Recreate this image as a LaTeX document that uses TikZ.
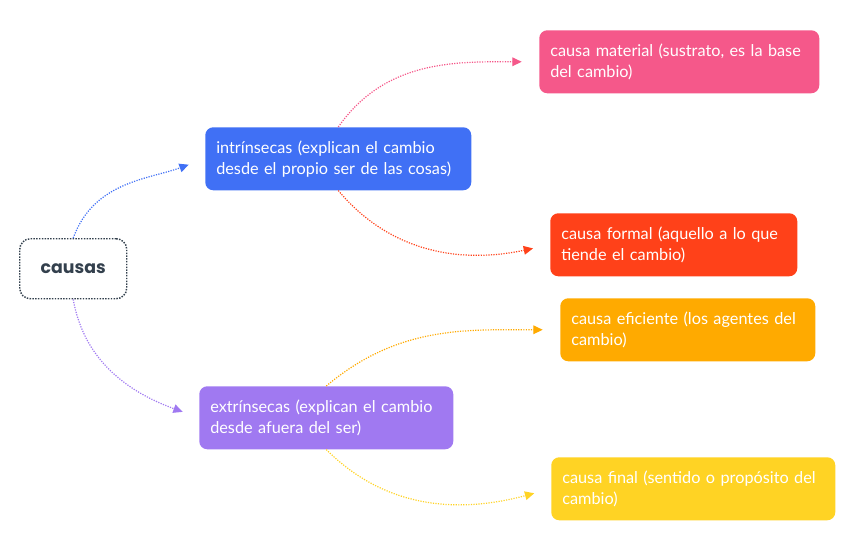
\documentclass[tikz,border=0pt]{standalone}
\usepackage{fontspec}
\setmainfont{Lato}
\newfontfamily\rootfont{Poppins}
\usetikzlibrary{arrows.meta}
\definecolor{cblue}{HTML}{4070F5}
\definecolor{cpurple}{HTML}{A079F1}
\definecolor{cpink}{HTML}{F5588A}
\definecolor{cred}{HTML}{FF4119}
\definecolor{corange}{HTML}{FFAA00}
\definecolor{cyellow}{HTML}{FFD324}
\definecolor{cdark}{HTML}{33404D}
\tikzset{
  box/.style={anchor=north west, rounded corners=6pt, minimum height=47.25pt, inner xsep=8.25pt, inner ysep=0pt, align=left, text=white, font=\fontsize{12.2}{15.9}\selectfont},
  conn/.style={densely dotted, line width=0.9pt, -{Triangle[length=7pt,width=6.5pt]}, shorten >=13pt},
}
\begin{document}
\begin{tikzpicture}[x=0.75pt,y=-0.75pt]
\useasboundingbox (0,0) rectangle (848,539);
% root
\node[draw=cdark, densely dotted, line width=1.1pt, rounded corners=8pt, minimum width=80.25pt, minimum height=45pt, anchor=north west, text=cdark, font=\rootfont\fontsize{13}{16}\selectfont\bfseries] (causas) at (19,238) {causas};
% level 1
\node[box, fill=cblue, text width=183pt] (intr) at (205,127) {intrínsecas (explican el cambio\\desde el propio ser de las cosas)};
\node[box, fill=cpurple, text width=174pt] (extr) at (199,386) {extrínsecas (explican el cambio\\desde afuera del ser)};
% level 2
\node[box, fill=cpink, text width=193.5pt] (mat) at (539,30) {causa material (sustrato, es la base\\del cambio)};
\node[box, fill=cred, text width=168.75pt] (form) at (550,213) {causa formal (aquello a lo que\\tiende el cambio)};
\node[box, fill=corange, text width=174.75pt] (efic) at (560,298) {causa eficiente (los agentes del\\cambio)};
\node[box, fill=cyellow, text width=196.5pt] (fin) at (551,457) {causa final (sentido o propósito del\\cambio)};
% connectors
\draw[conn, cblue] (causas.north) to[out=70, in=200] (intr.west);
\draw[conn, cpurple] (causas.south) to[out=-80, in=160] (extr.west);
\draw[conn, cpink] (intr.north) to[out=55, in=180] (mat.west);
\draw[conn, cred] (intr.south) to[out=-50, in=192] (form.west);
\draw[conn, corange] (extr.north) to[out=40, in=180] (efic.west);
\draw[conn, cyellow] (extr.south) to[out=-45, in=195] (fin.west);
\end{tikzpicture}
\end{document}
